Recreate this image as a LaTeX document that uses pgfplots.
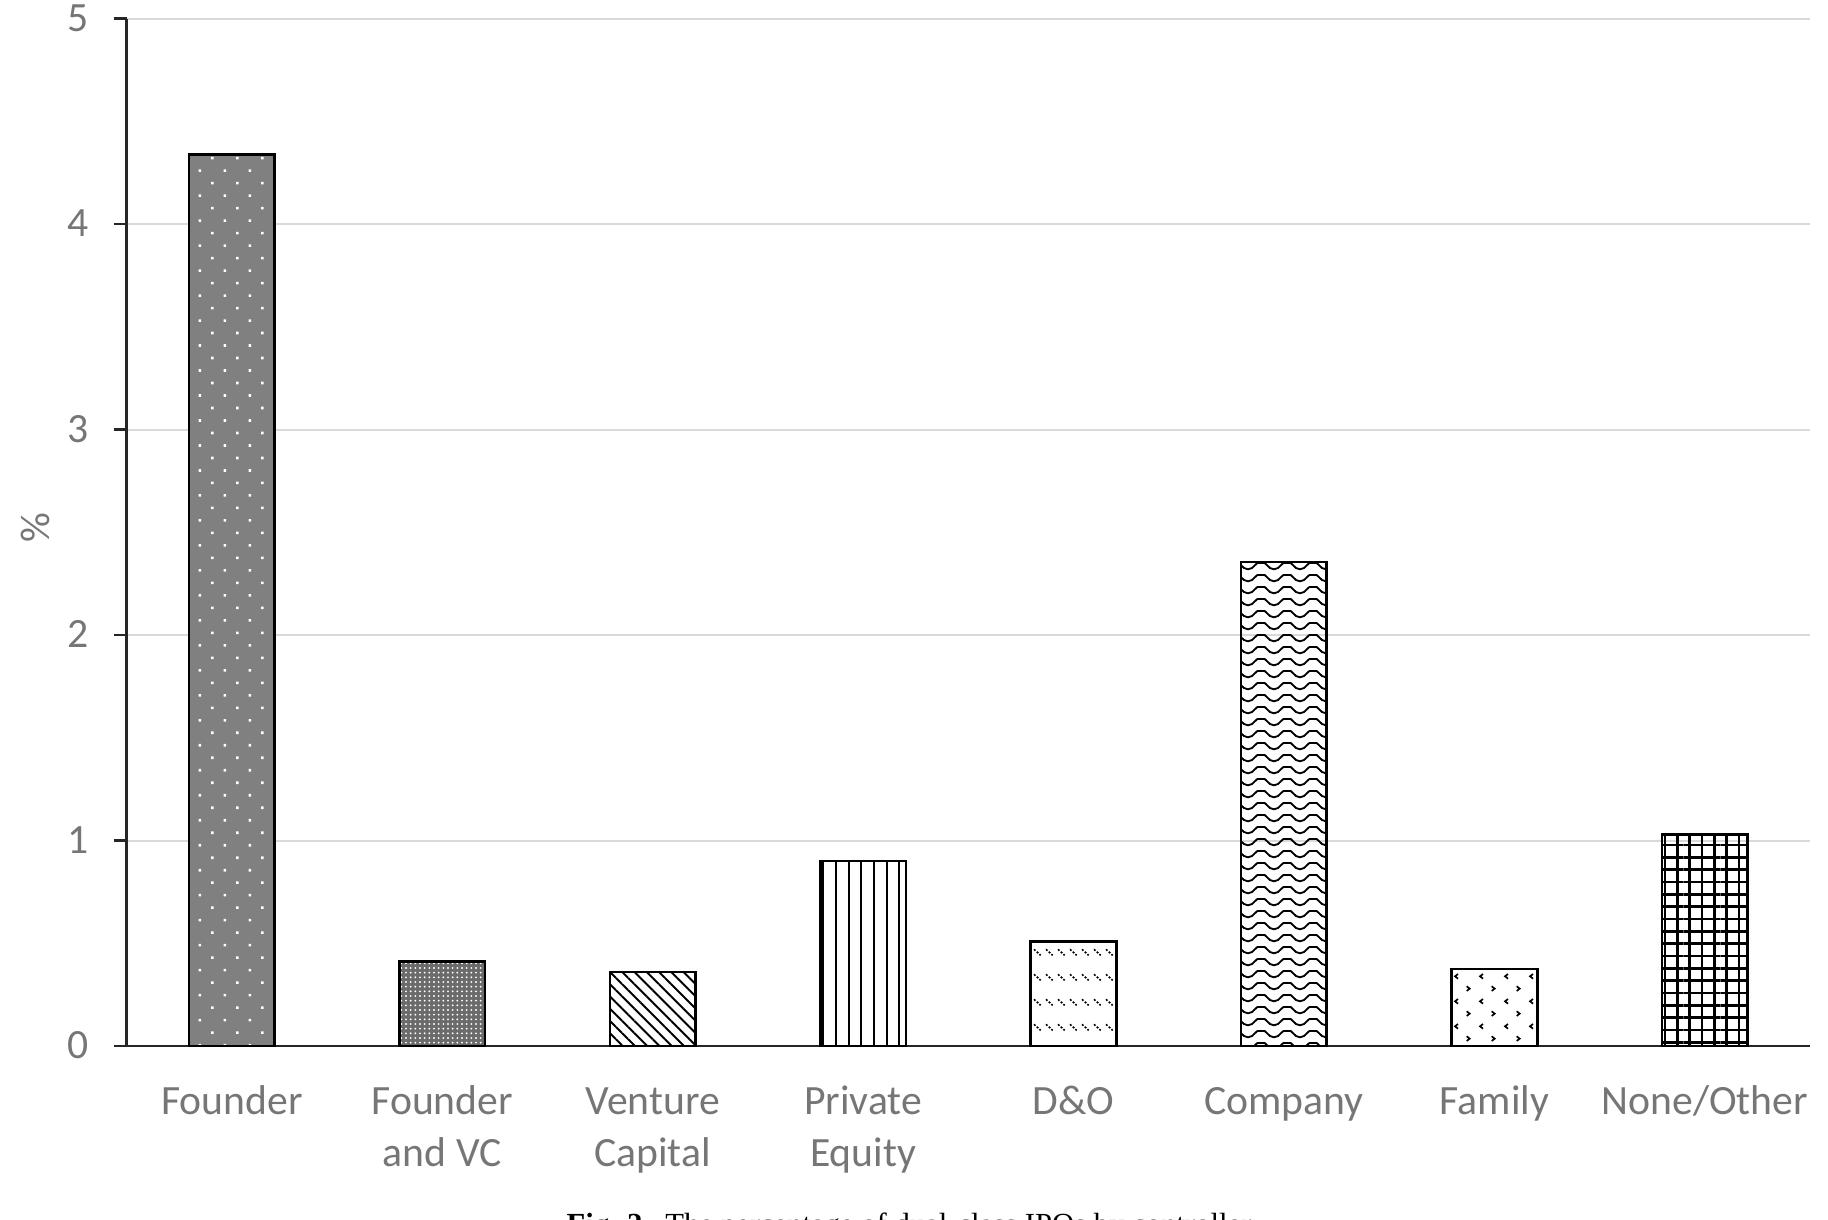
\documentclass[border=0pt]{standalone}
\usepackage{pgfplots}
\pgfplotsset{compat=1.18}
\usetikzlibrary{patterns,patterns.meta}
\usepackage{fontspec}
\setmainfont{Carlito}
\newfontfamily\capfont{Liberation Serif}
\definecolor{ticklab}{HTML}{767676}
\definecolor{gridc}{HTML}{D9D9D9}

\pgfdeclarepatternformonly{dashrows}{\pgfpoint{-1pt}{-1pt}}{\pgfpoint{4.6pt}{8.5pt}}{\pgfpoint{3.6pt}{7.5pt}}{
  \pgfsetlinewidth{0.5pt}
  \pgfsetdash{{0.6pt}{0.5pt}}{0pt}
  \pgfpathmoveto{\pgfpoint{0.6pt}{6.2pt}}
  \pgfpathlineto{\pgfpoint{2.6pt}{4.4pt}}
  \pgfusepath{stroke}
}
\pgfdeclarepatternformonly{waves}{\pgfpoint{-1pt}{-1pt}}{\pgfpoint{8.8pt}{4.6pt}}{\pgfpoint{7.8pt}{3.6pt}}{
  \pgfsetlinewidth{0.55pt}
  \pgfpathmoveto{\pgfpoint{0pt}{0.8pt}}
  \pgfpathlineto{\pgfpoint{1.2pt}{1.2pt}}
  \pgfpathlineto{\pgfpoint{2.8pt}{2.7pt}}
  \pgfpathlineto{\pgfpoint{5.0pt}{2.7pt}}
  \pgfpathlineto{\pgfpoint{6.6pt}{1.2pt}}
  \pgfpathlineto{\pgfpoint{7.8pt}{0.8pt}}
  \pgfusepath{stroke}
}
\pgfdeclarepatternformonly{chevrons}{\pgfpoint{-1pt}{-1pt}}{\pgfpoint{8.5pt}{8.5pt}}{\pgfpoint{7.5pt}{7.5pt}}{
  \pgfsetlinewidth{0.5pt}
  \pgfpathmoveto{\pgfpoint{2.4pt}{6.3pt}}
  \pgfpathlineto{\pgfpoint{1.5pt}{5.6pt}}
  \pgfpathlineto{\pgfpoint{2.4pt}{4.9pt}}
  \pgfpathmoveto{\pgfpoint{5.0pt}{2.6pt}}
  \pgfpathlineto{\pgfpoint{5.9pt}{1.9pt}}
  \pgfpathlineto{\pgfpoint{5.0pt}{1.2pt}}
  \pgfusepath{stroke}
}

\begin{document}
\begin{tikzpicture}
\useasboundingbox (-38.0pt,-52.2pt) rectangle (510.4pt,313.8pt);
\begin{axis}[
  at={(0pt,0pt)}, anchor=south west,
  scale only axis, width=505pt, height=308.2pt,
  xmin=-0.5, xmax=7.5, ymin=0, ymax=5,
  axis lines*=left,
  axis line style={line width=0.8pt, black!85},
  xtick={0,...,7},
  xticklabels={Founder,{Founder\\and VC},{Venture\\Capital},{Private\\Equity},D\&O,Company,Family,None/Other},
  ytick={0,1,2,3,4,5},
  tick align=outside,
  major tick length=3.9pt,
  x tick style={draw=none},
  y tick style={line width=0.8pt, black!85},
  ymajorgrids,
  grid style={gridc, line width=0.6pt},
  tick label style={font=\fontsize{12.5}{15.7}\selectfont, text=ticklab},
  xticklabel style={align=center, yshift=-2.1pt},
  typeset ticklabels with strut,
  yticklabel style={xshift=-3.9pt, yshift=-0.7pt},
  /pgf/number format/assume math mode=true,
  ylabel={\%},
  every axis y label/.style={at={(axis description cs:-0.0539,0.505)}, rotate=90, anchor=center,
    font=\fontsize{12.5}{15}\selectfont, text=ticklab},
  clip=false,
]
\addplot[ybar, bar width=0.407, draw=black, line width=0.8pt, fill=black!50,
  postaction={pattern={Dots[distance=5.3pt,angle=45,radius=0.55pt]}, pattern color=white}]
  coordinates {(0,4.34)};
\addplot[ybar, bar width=0.407, draw=black, line width=0.8pt, fill=black!58,
  postaction={pattern={Dots[distance=1.4pt,radius=0.32pt]}, pattern color=white}]
  coordinates {(1,0.41)};
\addplot[ybar, bar width=0.407, draw=black, line width=0.8pt,
  pattern={Lines[angle=-45,distance=2.6pt,line width=0.6pt]}, pattern color=black]
  coordinates {(2,0.36)};
\addplot[ybar, bar width=0.407, draw=black, line width=0.8pt,
  pattern={Lines[angle=90,distance=3.8pt,line width=0.65pt]}, pattern color=black]
  coordinates {(3,0.90)};
\addplot[ybar, bar width=0.407, draw=black, line width=0.8pt,
  pattern=dashrows, pattern color=black]
  coordinates {(4,0.51)};
\addplot[ybar, bar width=0.407, draw=black, line width=0.8pt,
  pattern=waves, pattern color=black]
  coordinates {(5,2.355)};
\addplot[ybar, bar width=0.407, draw=black, line width=0.8pt,
  pattern=chevrons, pattern color=black]
  coordinates {(6,0.375)};
\addplot[ybar, bar width=0.407, draw=black, line width=0.8pt,
  pattern={Hatch[angle=0,distance=3.7pt,line width=0.85pt,yshift=1.5pt]}, pattern color=black]
  coordinates {(7,1.03)};
\end{axis}
\node[anchor=north, inner sep=0pt, font=\capfont\fontsize{9.2}{11}\selectfont] at (235.6pt,-49.8pt)
  {\textbf{Fig. 2.}\enspace The percentage of dual-class IPOs by controller.};
\end{tikzpicture}
\end{document}
